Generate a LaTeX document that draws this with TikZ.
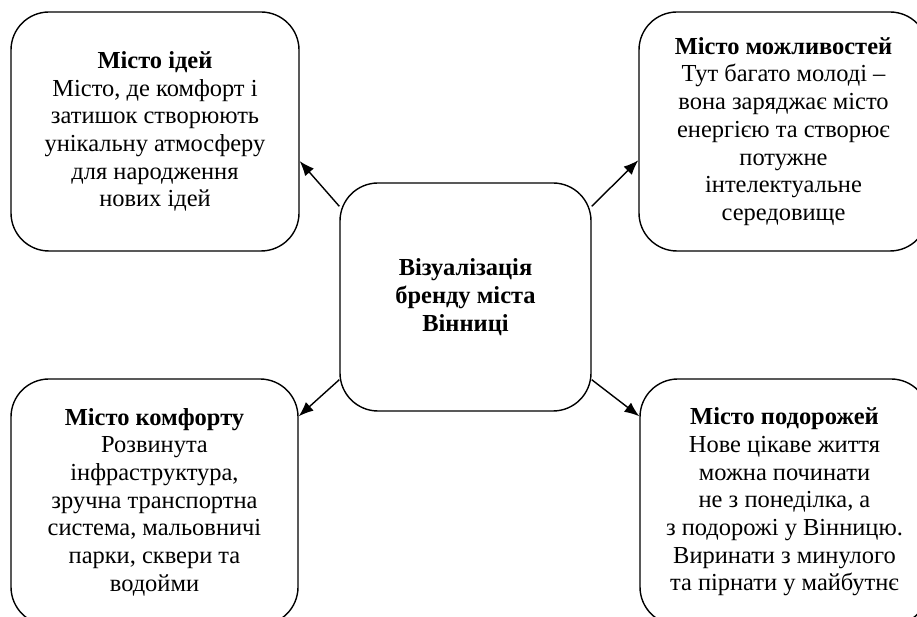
\documentclass[tikz,border=0pt]{standalone}
\usepackage{fontspec}
\setmainfont{Liberation Serif}
\usepackage{tikz}
\usetikzlibrary{arrows.meta}

\begin{document}
\begin{tikzpicture}[line width=1pt,
		idea/.style={draw, rounded corners=0.95cm, align=center, inner sep=0pt,
			font=\fontsize{17.4}{19.7}\selectfont},
		link/.style={-{Latex[length=3.7mm,width=2.9mm]}}]
			\useasboundingbox (0,0) rectangle (22.925,15.425);
			\clip (0,0) rectangle (22.925,15.425);
			\node[idea, minimum width=6.275cm, minimum height=5.7cm] (brand) at (11.6375,8) {\textbf{Візуалізація}\\\textbf{бренду міста}\\\textbf{Вінниці}};
			\node[idea, minimum width=7.2cm, minimum height=5.975cm] (ideas) at (3.875,12.1375) {\textbf{Місто ідей}\\Місто, де комфорт і\\затишок створюють\\унікальну атмосферу\\для народження\\нових ідей};
			\node[idea, minimum width=7.225cm, minimum height=5.975cm] (chances) at (19.5875,12.1375) {\textbf{Місто можливостей}\\Тут багато молоді --\\вона заряджає місто\\енергією та створює\\потужне\\інтелектуальне\\середовище};
			\node[idea, minimum width=7.175cm, minimum height=6.15cm] (comfort) at (3.8625,2.875) {\textbf{Місто комфорту}\\Розвинута\\інфраструктура,\\зручна транспортна\\система, мальовничі\\парки, сквери та\\водойми};
			\node[idea, minimum width=7.225cm, minimum height=6.15cm] (travel) at (19.6125,2.875) {\textbf{Місто подорожей}\\Нове цікаве життя\\можна починати\\не з понеділка, а\\з подорожі у Вінницю.\\Виринати з минулого\\та пірнати у майбутнє};
			\draw[link] ([yshift=-0.6cm]brand.north west) -- ([yshift=-0.74cm]ideas.east);
			\draw[link] ([yshift=-0.6cm]brand.north east) -- ([yshift=-0.72cm]chances.west);
			\draw[link] ([yshift=0.8cm]brand.south west) -- ([yshift=-0.95cm]comfort.north east);
			\draw[link] ([yshift=0.8cm]brand.south east) -- ([yshift=-0.95cm]travel.north west);
		\end{tikzpicture}
\end{document}
